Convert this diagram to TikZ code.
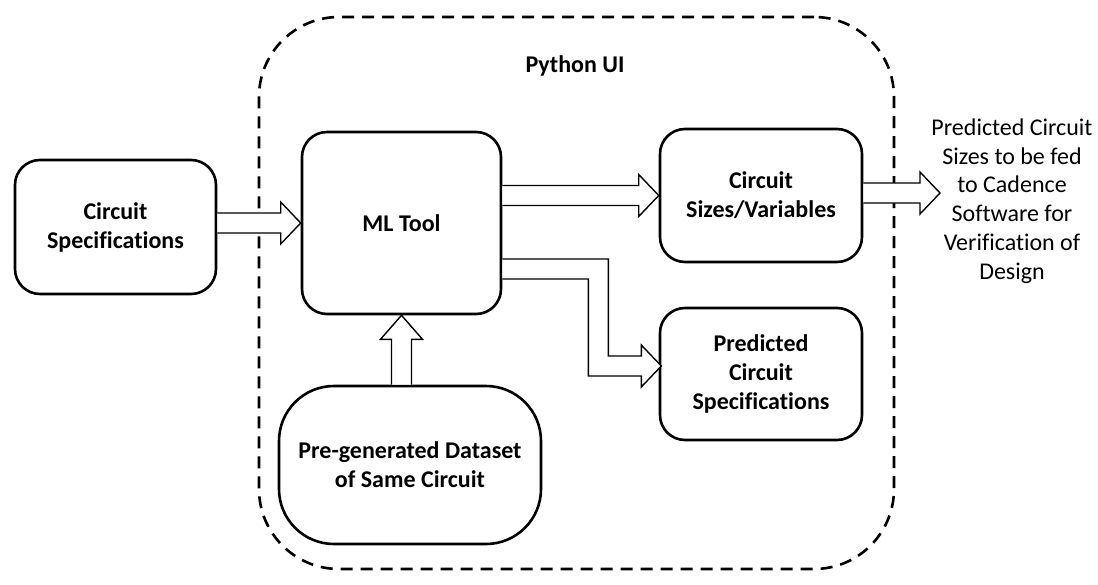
\documentclass[tikz,border=0pt]{standalone}
\usepackage{fontspec}
\setmainfont{Carlito}[Ligatures=NoCommon]
\usetikzlibrary{calc}

% block arrow, horizontal: open end at #1, tip at #2
\newcommand\harrow[2]{%
  \draw[barrow] let \p1=(#1), \p2=(#2) in
    (\x1,\y2+10pt) -- (\x2-20pt,\y2+10pt) -- (\x2-20pt,\y2+21pt) -- (\x2,\y2)
    -- (\x2-20pt,\y2-21pt) -- (\x2-20pt,\y2-10pt) -- (\x1,\y2-10pt);}
% block arrow, upwards: open end at #1, tip at #2
\newcommand\varrow[2]{%
  \draw[barrow] let \p1=(#1), \p2=(#2) in
    (\x2-10pt,\y1) -- (\x2-10pt,\y2-24pt) -- (\x2-21pt,\y2-24pt) -- (\x2,\y2)
    -- (\x2+21pt,\y2-24pt) -- (\x2+10pt,\y2-24pt) -- (\x2+10pt,\y1);}

\begin{document}
\begin{tikzpicture}[x=1pt,y=-1pt]
        \tikzstyle{blk}=[draw,line width=2.6pt,rounded corners=25pt,align=center,
                         font=\bfseries\fontsize{24}{29}\selectfont]
        \tikzstyle{barrow}=[draw,fill=white,line width=1.4pt,line join=miter]
        \tikzstyle{plain}=[align=center,font=\fontsize{24}{28.7}\selectfont]

        \useasboundingbox (0,0) rectangle (1098,584);

        \node[draw,line width=2.6pt,dash pattern=on 12pt off 8pt,rounded corners=80pt,
              minimum width=635pt,minimum height=552pt] (ui) at (576.5,293) {};
        \node[font=\bfseries\fontsize{24}{29}\selectfont] (uilabel) at (575,66) {Python UI};

        \node[blk,minimum width=201pt,minimum height=134pt] (spec) at (115.5,227)
            {Circuit\\Specifications};
        \node[blk,minimum width=199pt,minimum height=182pt] (ml) at (401.5,223) {ML Tool};
        \node[blk,minimum width=202pt,minimum height=133pt] (sizes) at (761,195.5)
            {Circuit\\Sizes/Variables};
        \node[blk,minimum width=202pt,minimum height=132pt] (pred) at (761,374)
            {Predicted\\Circuit\\Specifications};
        \node[blk,rounded corners=55pt,minimum width=262pt,minimum height=158pt] (data)
            at (410,465) {Pre-generated Dataset\\of Same Circuit};

        \node[plain] (out) at (1012,201)
            {Predicted Circuit\\Sizes to be fed\\to Cadence\\Software for\\Verification of\\Design};
        \coordinate (outtip) at (940,193);

        \harrow{spec.east}{ml.west}      % specs -> ML
        \harrow{ml.east}{sizes.west}     % ML -> sizes
        \harrow{sizes.east}{outtip}      % sizes -> cadence
        \varrow{data.north}{ml.south}    % dataset -> ML
        % ML -> predicted specs, bent
        \draw[barrow] ($(ml.east)+(0,36)$) -- ++(106,0) -- ++(0,97) -- ++(33,0) -- ++(0,-11)
            -- ++(20,21) -- ++(-20,21) -- ++(0,-11) -- ++(-53,0) -- ++(0,-97) -- ++(-86,0);
\end{tikzpicture}
\end{document}
